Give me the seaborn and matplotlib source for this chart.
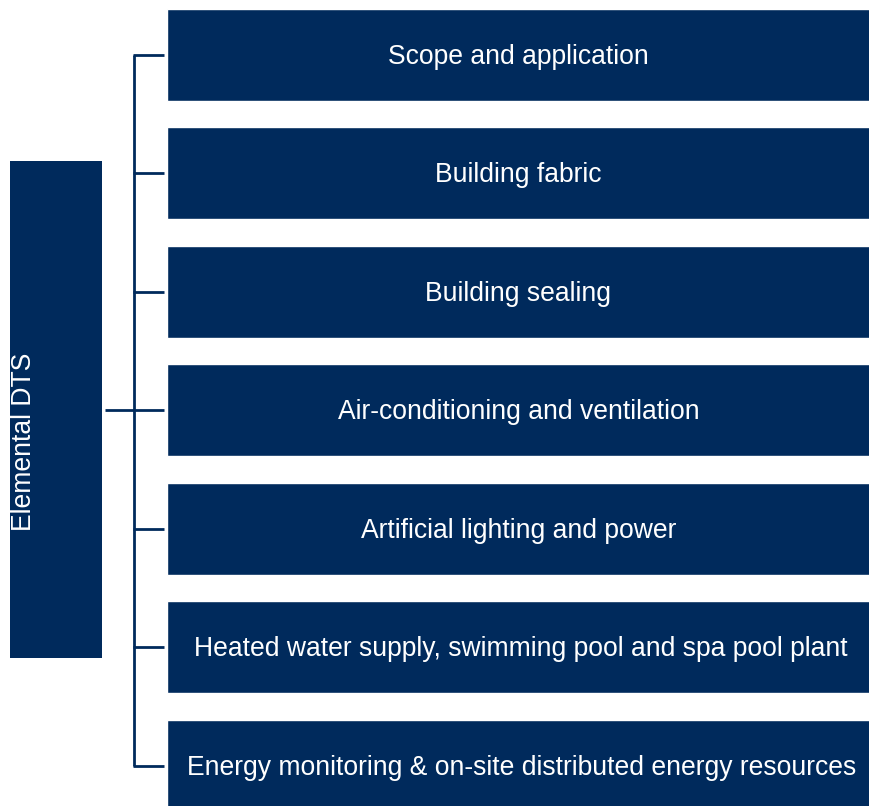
import matplotlib
matplotlib.use("Agg")
import matplotlib.pyplot as plt
from matplotlib.patches import Rectangle
import pandas as pd
import seaborn as sns

# ---- data ----
root_label = "Elemental DTS"
categories = [
    "Scope and application",
    "Building fabric",
    "Building sealing",
    "Air-conditioning and ventilation",
    "Artificial lighting and power",
    "Heated water supply, swimming pool and spa pool plant",
    "Energy monitoring & on-site distributed energy resources",
]
values = [1, 1, 1, 1, 1, 1, 1]

# ---- layout / style ----
NAVY = "#002A5C"
W, H = 870, 806
PITCH = 118.5        # px between box centres
FIRST = 54.5         # px, centre of first box
BOX_H = 92.0         # px
BOX_LEFT = 167
TRUNK_X = 134
FONT = 19.1

sns.set_theme(style="white")
plt.rcParams["font.family"] = ["Liberation Sans", "DejaVu Sans"]

df = pd.DataFrame({"category": categories, "value": values})

fig = plt.figure(figsize=(W / 100, H / 100), dpi=100)
fig.patch.set_facecolor("white")

# background axes in pixel coordinates for the tree connector and root box
bg = fig.add_axes([0, 0, 1, 1])
bg.set_xlim(0, W)
bg.set_ylim(H, 0)
bg.axis("off")

# right-hand boxes as a horizontal seaborn bar chart
ax = fig.add_axes([BOX_LEFT / W, 0, 1 - BOX_LEFT / W, 1])
sns.barplot(data=df, x="value", y="category", orient="h", color=NAVY,
            saturation=1, width=BOX_H / PITCH, ax=ax)
ax.set_xlim(0, 1)
ax.set_ylim((H - FIRST) / PITCH, -FIRST / PITCH)
ax.axis("off")
for i, (lab, v) in enumerate(zip(categories, values)):
    ax.text(v / 2 + (0.004 if len(lab) > 45 else 0), i + 0.017, lab,
            ha="center", va="center", color="white", fontsize=FONT)

# root box
bg.add_patch(Rectangle((10, 161), 92, 497, color=NAVY, lw=0))
bg.text(24, 442, root_label, rotation=90, ha="center", va="center",
        color="white", fontsize=FONT)

# connectors
lw = 2.0
centers = [FIRST + i * PITCH for i in range(len(categories))]
bg.plot([TRUNK_X, TRUNK_X], [centers[0], centers[-1]], color=NAVY, lw=lw,
        solid_capstyle="butt")
for c in centers:
    bg.plot([TRUNK_X - 1, 164], [c, c], color=NAVY, lw=lw, solid_capstyle="butt")
mid = (161 + 658) / 2
bg.plot([105, TRUNK_X], [mid, mid], color=NAVY, lw=lw, solid_capstyle="butt")

fig.savefig("out.png", dpi=100, facecolor="white")
